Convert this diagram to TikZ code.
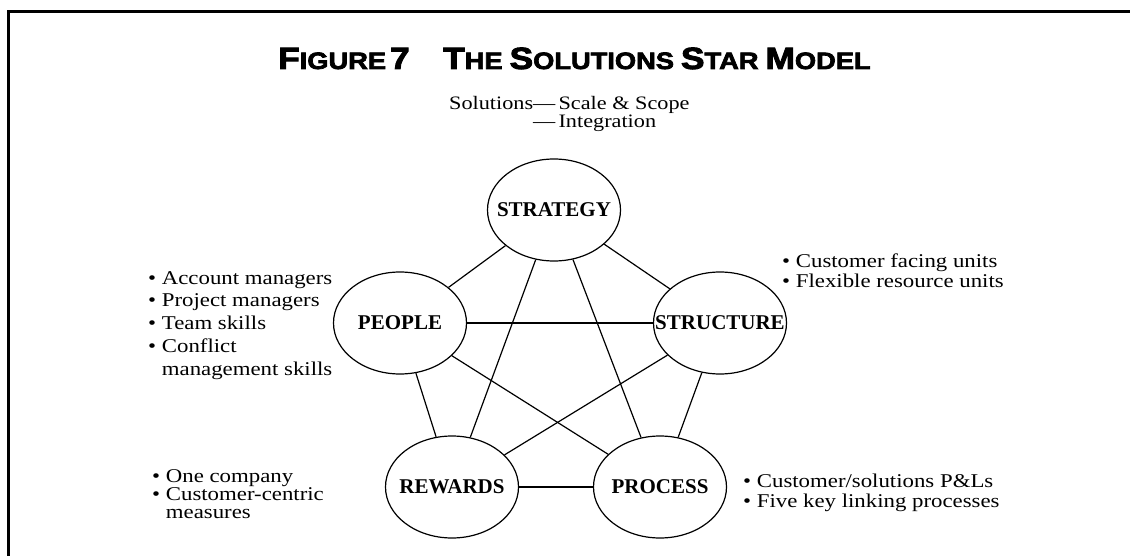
\documentclass[tikz,border=0pt]{standalone}
\usepackage{fontspec}
\setmainfont{Liberation Serif}[FakeStretch=1.17]
\newfontfamily\labelfont{Liberation Serif}
\newfontfamily\headfont{Liberation Sans}[BoldFeatures={FakeBold=3,FakeStretch=1.15}]
\usetikzlibrary{shapes.geometric}
\newcommand{\capword}[2]{{\fontsize{30.7}{32}\selectfont #1}{\fontsize{23.7}{25}\selectfont #2}}
\newcommand{\itemlines}[1]{\begin{tabular}[t]{@{}l@{}}#1\end{tabular}}
\begin{document}
\begin{tikzpicture}[x=1pt,y=-1pt]

    \tikzset{
      factor/.style={
        draw,
        line width=1.2pt,
        ellipse,
        inner sep=0pt,
        minimum width=133pt,
        minimum height=102pt,
        font=\labelfont\bfseries\fontsize{21}{22}\selectfont,
      },
      link/.style={
        line width=1.2pt,
      },
      note/.style={
        inner sep=0pt,
        anchor=base west,
        font=\fontsize{19.5}{20}\selectfont,
      },
    }
    \useasboundingbox (0,0) rectangle (1130,556);
    \draw[line width=3pt] (8,556)--(8,12)--(1130,12);

	\node[anchor=base west,inner sep=0pt,font=\headfont\bfseries] (figno) at (278,69) {\capword{F}{IGURE}\hspace{4pt}\capword{7}{}};
	\node[anchor=base west,inner sep=0pt,font=\headfont\bfseries] (title) at (443,69) {\capword{T}{HE}\hspace{7pt}\capword{S}{OLUTIONS}\hspace{7pt}\capword{S}{TAR}\hspace{7pt}\capword{M}{ODEL}};
	\node[note,font=\fontsize{19}{18}\selectfont] (scope) at (449,110) {\itemlines{Solutions---\,Scale \& Scope\\\hphantom{Solutions}---\,Integration}};

	\node[factor] (strategy) at (554,210) {\makebox[0pt]{STRATEGY}};
	\node[factor] (people) at (400,323) {\makebox[0pt]{PEOPLE}};
	\node[factor] (structure) at (720,323) {\makebox[0pt]{STRUCTURE}};
	\node[factor] (rewards) at (452,487) {\makebox[0pt]{REWARDS}};
	\node[factor] (process) at (660,487) {\makebox[0pt]{PROCESS}};

	\draw[link] (strategy)--(people);
	\draw[link] (strategy)--(structure);
	\draw[link] (strategy)--(rewards);
	\draw[link] (strategy)--(process);
	\draw[link] (people)--(structure);
	\draw[link] (people)--(rewards);
	\draw[link] (people)--(process);
	\draw[link] (structure)--(rewards);
	\draw[link] (structure)--(process);
	\draw[link] (rewards)--(process);

	\node[note,font=\fontsize{19.5}{22.75}\selectfont] (skills) at (148,284) {\itemlines{\textbullet\ Account managers\\\textbullet\ Project managers\\\textbullet\ Team skills\\\textbullet\ Conflict\\\hphantom{\textbullet\ }management skills}};
	\node[note] (units) at (782,268) {\itemlines{\textbullet\ Customer facing units\\\textbullet\ Flexible resource units}};
	\node[note,font=\fontsize{19.5}{18}\selectfont] (measures) at (152,482) {\itemlines{\textbullet\ One company\\\textbullet\ Customer-centric\\\hphantom{\textbullet\ }measures}};
	\node[note] (pnl) at (743,487) {\itemlines{\textbullet\ Customer/solutions P\&Ls\\\textbullet\ Five key linking processes}};

\end{tikzpicture}
\end{document}
